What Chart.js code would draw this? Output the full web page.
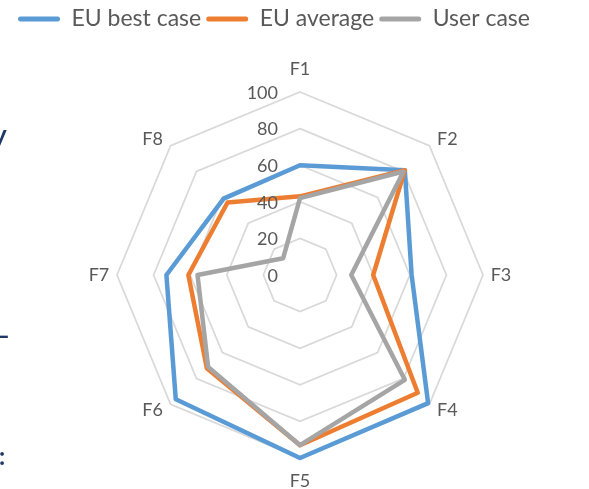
<!DOCTYPE html>
<html><head><meta charset="utf-8">
<script src="https://cdn.jsdelivr.net/npm/chart.js@4.4.0/dist/chart.umd.min.js"></script>
<style>
html,body{margin:0;padding:0;background:#fff;}
#wrap{position:relative;width:589px;height:489px;overflow:hidden;background:#fff;}
#c{position:absolute;left:0;top:0;}
.side{position:absolute;color:#1f3864;font-family:Lato,"Liberation Sans",sans-serif;font-weight:bold;line-height:1;}
</style></head><body>
<div id="wrap">
<canvas id="c" width="589" height="489"></canvas>
<span class="side" style="left:-7px;top:121px;font-size:26px">y</span>
<span class="side" style="left:-5px;top:322px;font-size:26px">–</span>
<span class="side" style="left:-1px;top:444px;font-size:24px">:</span>
</div>
<script>
// ---- data ----
const categories = ['F1', 'F2', 'F3', 'F4', 'F5', 'F6', 'F7', 'F8'];
const euBestCase = [60, 81, 61, 99, 100, 96, 73, 59];
const euAverage  = [43, 81, 40, 91, 93, 72, 61, 56];
const userCase   = [42, 80, 28, 81, 93, 71, 56, 13];
const seriesNames = ['EU best case', 'EU average', 'User case'];
const tickValues = [0, 20, 40, 60, 80, 100];
// ---- styles ----
const seriesColors = ['#5B9BD5', '#ED7D31', '#A5A5A5'];
const textColor = '#595959';

const seriesData = [euBestCase, euAverage, userCase];

const excelLook = {
  id: 'excelLook',
  beforeInit(chart) {
    const fit = chart.legend.fit;
    chart.legend.fit = function () { fit.call(this); this.height = 92; };
  },
  afterLayout(chart) {
    const lg = chart.legend;
    lg.left += 1; lg.right += 1; lg.top += 2.5; lg.bottom += 2.5;
  },
  afterDatasetsDraw(chart) {
    const s = chart.scales.r;
    const ctx = chart.ctx;
    ctx.save();
    ctx.fillStyle = textColor;
    ctx.font = '18px Lato';
    ctx.textAlign = 'right';
    ctx.textBaseline = 'middle';
    s.ticks.forEach(t => {
      const d = s.getDistanceFromCenterForValue(t.value);
      ctx.fillText(t.label, s.xCenter - 22, s.yCenter - d + 1);
    });
    ctx.textAlign = 'center';
    categories.forEach((lab, i) => {
      const p = s.getPointPosition(i, s.drawingArea);
      const a = s.getIndexAngle(i);
      const sn = Math.sin(a), cs = Math.cos(a);
      const dx = Math.abs(sn) < 0.01 ? 0 : Math.sign(sn) * 18;
      const dy = Math.abs(cs) < 0.01 ? 0 : -Math.sign(cs) * (Math.abs(sn) < 0.01 ? 23 : 6);
      ctx.fillText(lab, p.x + dx, p.y + dy);
    });
    ctx.restore();
  }
};

new Chart(document.getElementById('c'), {
  type: 'radar',
  data: {
    labels: categories,
    datasets: seriesData.map((d, i) => ({
      label: seriesNames[i],
      data: d,
      borderColor: seriesColors[i],
      backgroundColor: seriesColors[i],
      fill: false,
      borderWidth: 4.5,
      pointRadius: 0,
      pointHoverRadius: 0,
      borderJoinStyle: 'round',
      tension: 0,
      order: 3 - i
    }))
  },
  options: {
    responsive: false,
    animation: false,
    events: [],
    layout: { padding: { left: 12, right: 0, top: 0, bottom: 31 } },
    plugins: {
      tooltip: { enabled: false },
      legend: {
        position: 'top',
        align: 'start',
        labels: {
          font: { family: 'Lato', size: 23 },
          color: textColor,
          boxWidth: 42,
          boxHeight: 5,
          padding: 5,
          useBorderRadius: true,
          borderRadius: 2.5,
          generateLabels(chart) {
            return chart.data.datasets.map((ds, i) => ({
              text: ds.label,
              fillStyle: ds.borderColor,
              strokeStyle: ds.borderColor,
              lineWidth: 0,
              fontColor: textColor,
              hidden: false,
              datasetIndex: i,
              borderRadius: 2.5
            }));
          }
        }
      }
    },
    scales: {
      r: {
        min: tickValues[0],
        max: tickValues[tickValues.length - 1],
        ticks: { display: false, stepSize: tickValues[1] - tickValues[0] },
        grid: { color: '#D9D9D9', lineWidth: 1.75, circular: false },
        angleLines: { display: false },
        pointLabels: { display: false }
      }
    }
  },
  plugins: [excelLook]
});
</script>
</body></html>
